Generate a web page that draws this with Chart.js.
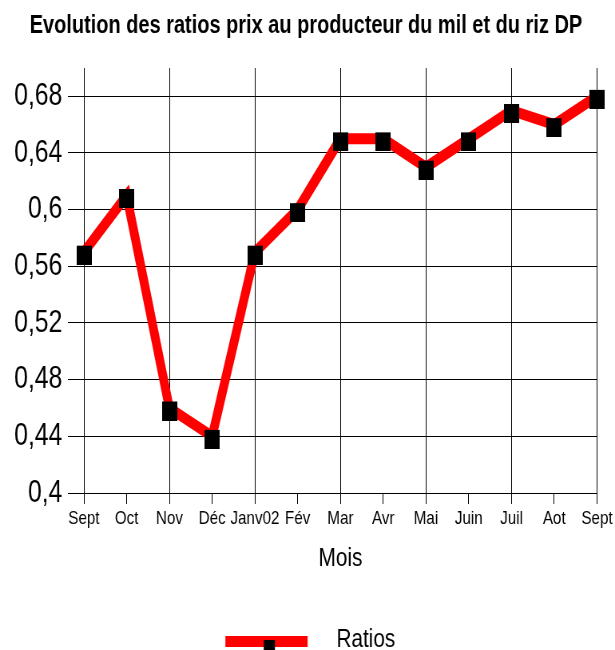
<!DOCTYPE html>
<html>
<head>
<meta charset="utf-8">
<script src="https://cdn.jsdelivr.net/npm/chart.js@4"></script>
<style>
  html, body { margin: 0; padding: 0; background: #fff; overflow: hidden; }
  /* drawn wide, then squeezed horizontally */
  #wrap { width: 770px; height: 650px; transform: scaleX(0.7987); transform-origin: 0 0; }
  #chart { display: block; }
</style>
</head>
<body>
<div id="wrap"><canvas id="chart" width="770" height="650"></canvas></div>
<script>
const months = ["Sept", "Oct", "Nov", "Déc", "Janv02", "Fév", "Mar", "Avr", "Mai", "Juin", "Juil", "Aot", "Sept"];
const ratios = [0.57, 0.61, 0.46, 0.44, 0.57, 0.60, 0.65, 0.65, 0.63, 0.65, 0.67, 0.66, 0.68];
const yTicks = [0.4, 0.44, 0.48, 0.52, 0.56, 0.6, 0.64, 0.68];

function $(id) { return document.getElementById(id); }

function fmtComma(v) {
  return String(Math.round(v * 100) / 100).replace(".", ",");
}

// black square marker, sitting a little below the line vertex
function makeMarker() {
  const c = document.createElement("canvas");
  c.width = 19;
  c.height = 25;
  const g = c.getContext("2d");
  g.fillStyle = "#000";
  g.fillRect(0, 6, 19, 19);
  return c;
}

// legend swatch: thick red stroke with the marker on it
function makeLegendSwatch() {
  const c = document.createElement("canvas");
  c.width = 137;
  c.height = 30;
  const g = c.getContext("2d");
  g.fillStyle = "#ff0000";
  g.fillRect(11, 11, 103, 11);
  g.fillStyle = "#000";
  g.fillRect(59, 15, 14, 14);
  return c;
}

Chart.defaults.font.family = "'Liberation Sans', Arial, sans-serif";
Chart.defaults.color = "#000";

const chart = new Chart($("chart").getContext("2d"), {
  type: "line",
  data: {
    labels: months,
    datasets: [{
      label: "Ratios",
      data: ratios,
      borderColor: "#ff0000",
      borderWidth: 11,
      pointStyle: makeMarker(),
      pointRadius: 10,
      pointHoverRadius: 10,
      tension: 0
    }]
  },
  options: {
    responsive: false,
    devicePixelRatio: 1,
    animation: false,
    layout: { padding: { left: 17, right: 21, top: 0, bottom: -13 } },
    plugins: {
      title: {
        display: true,
        text: "Evolution des ratios prix au producteur du mil et du riz DP",
        font: { size: 25, weight: "bold" },
        color: "#000",
        padding: { top: 11, bottom: 27 }
      },
      legend: {
        position: "bottom",
        labels: {
          usePointStyle: true,
          pointStyle: makeLegendSwatch(),
          pointStyleWidth: 137,
          padding: 0,
          font: { size: 26 },
          color: "#000"
        }
      },
      tooltip: { enabled: false }
    },
    scales: {
      x: {
        offset: false,
        grid: {
          color: ctx => (ctx.index % 2 === 0 ? "#000" : "rgba(0,0,0,0)"),
          lineWidth: 1,
          tickColor: "#000",
          tickLength: 11
        },
        border: { display: true, color: "#000" },
        ticks: {
          autoSkip: false,
          maxRotation: 0,
          padding: 3,
          font: { size: 19 },
          color: "#000"
        },
        title: {
          display: true,
          text: "Mois",
          font: { size: 26 },
          color: "#000",
          padding: { top: 10, bottom: 53 }
        }
      },
      y: {
        min: 0.4,
        max: 0.7,
        afterBuildTicks: scale => { scale.ticks = yTicks.map(v => ({ value: v })); },
        afterFit: scale => { scale.width = 88; },
        grid: { color: "#000", lineWidth: 1, tickColor: "#000", tickLength: 20 },
        border: { display: true, color: "#000" },
        ticks: {
          padding: 7,
          font: { size: 31 },
          color: "#000",
          callback: v => fmtComma(v)
        }
      }
    }
  }
});
</script>
</body>
</html>
